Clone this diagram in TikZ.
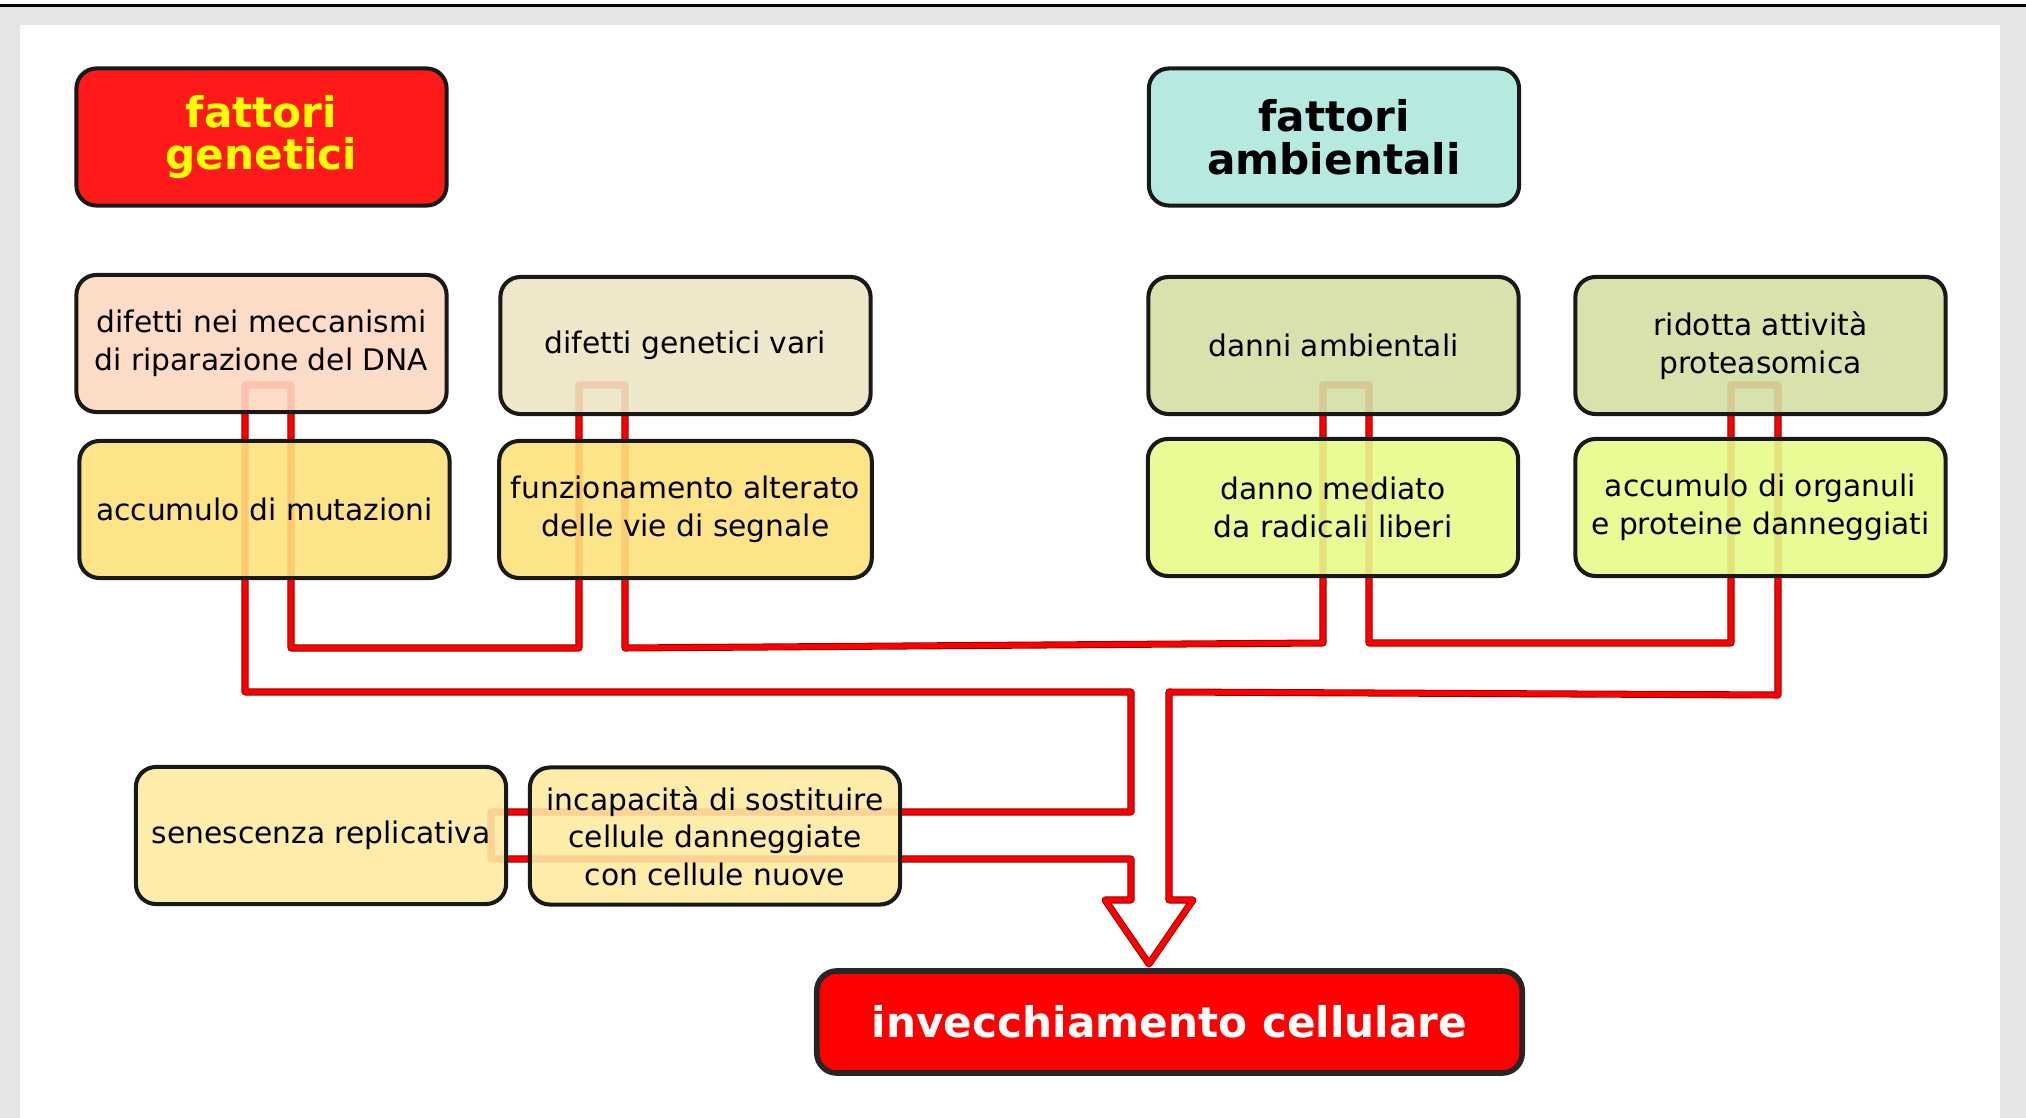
\documentclass[tikz,border=0pt]{standalone}
\usepackage{fontspec}
\setmainfont{DejaVu Sans}
\definecolor{rossotit}{RGB}{255,26,26}
\definecolor{gialloti}{RGB}{255,255,0}
\definecolor{acqua}{RGB}{182,234,224}
\definecolor{pesca}{RGB}{253,217,194}
\definecolor{sabbia}{RGB}{238,229,196}
\definecolor{oliva}{RGB}{212,223,164}
\definecolor{oro}{RGB}{254,226,124}
\definecolor{lime}{RGB}{230,251,138}
\definecolor{crema}{RGB}{254,235,162}
\tikzset{
  causa/.style={draw=black!90, line width=1.15pt, rounded corners=0.2cm,
    minimum width=3.7cm, minimum height=1.37cm, align=center,
    font=\fontsize{8.45}{10.7}\selectfont, fill opacity=0.9, text opacity=1},
  titolo/.style={causa, fill opacity=1, font=\fontsize{12}{12.2}\selectfont\bfseries},
  esito/.style={draw=black!85, line width=1.6pt, rounded corners=0.2cm, fill=red, text=white,
    minimum width=7.05cm, minimum height=1.02cm, font=\fontsize{12}{12.2}\selectfont\bfseries},
  freccia/.style={draw=red!55!black, double=red, double distance=1.5pt, line width=0.25pt, line join=round}
}
\begin{document}
\begin{tikzpicture}[x=0.01cm,y=-0.01cm]
\useasboundingbox (0,0) rectangle (2026,1118);
\fill[black!10] (0,7) rectangle (2026,1118);
\fill[white] (20,25) rectangle (2000,1118);
\draw[line width=0.85pt] (0,5.5) -- (2026,5.5);
\draw[freccia] (245,385) -- (245,692) -- (1131,692) -- (1131,812) -- (491,812) -- (491,859)
  -- (1131,859) -- (1131,900) -- (1105,900) -- (1149,964) -- (1193,900) -- (1169,900)
  -- (1169,692) -- (1778,695) -- (1778,385) -- (1731,385) -- (1731,643) -- (1369,643)
  -- (1369,385) -- (1323,385) -- (1323,643) -- (625,648) -- (625,385) -- (579,385)
  -- (579,648) -- (291,648) -- (291,385) -- cycle;
\node[titolo, fill=rossotit, text=gialloti] (gen) at (261.5,137) {fattori\\genetici};
\node[titolo, fill=acqua] (amb) at (1334,137) {fattori\\ambientali};
\node[causa, fill=pesca] (mecc) at (261.5,343.5) {difetti nei meccanismi\\di riparazione del DNA};
\node[causa, fill=sabbia] (vari) at (685.5,345.5) {difetti genetici vari};
\node[causa, fill=oliva] (danni) at (1333.5,345.5) {danni ambientali};
\node[causa, fill=oliva] (prot) at (1760.5,345.5) {ridotta attività\\proteasomica};
\node[causa, fill=oro] (mut) at (264.5,509.5) {accumulo di mutazioni};
\node[causa, fill=oro] (segn) at (685.5,509.5) {funzionamento alterato\\delle vie di segnale};
\node[causa, fill=lime] (rad) at (1333,507.5) {danno mediato\\da radicali liberi};
\node[causa, fill=lime] (org) at (1760.5,507.5) {accumulo di organuli\\e proteine danneggiati};
\node[causa, fill=crema] (sen) at (321,835.5) {senescenza replicativa};
\node[causa, fill=crema] (sost) at (715,836) {incapacità di sostituire\\cellule danneggiate\\con cellule nuove};
\node[esito] (inv) at (1169.5,1022) {invecchiamento cellulare};
\end{tikzpicture}
\end{document}
